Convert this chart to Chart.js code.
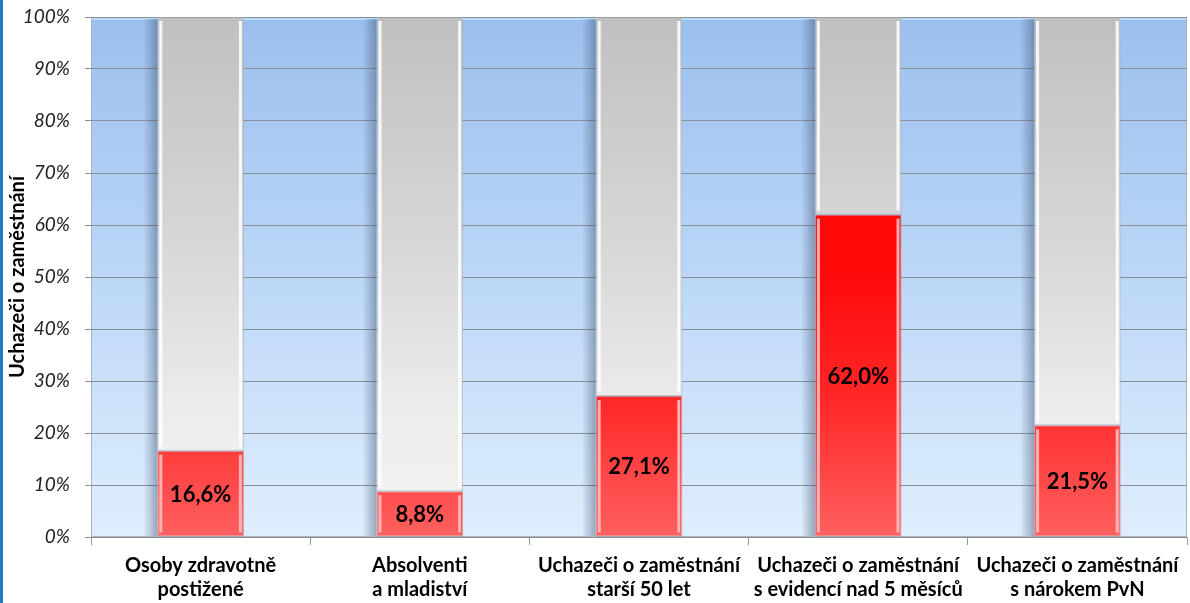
<!DOCTYPE html>
<html>
<head>
<meta charset="utf-8">
<script src="https://cdn.jsdelivr.net/npm/chart.js@4.4.1/dist/chart.umd.min.js"></script>
<style>
  html, body { margin: 0; padding: 0; background: #fff; }
  #wrap { width: 1190px; height: 603px; position: relative; }
</style>
</head>
<body>
<div id="wrap"><canvas id="chart"></canvas></div>
<script>
// Categories (two-line labels)
const categories = [
  ["Osoby zdravotně", "postižené"],
  ["Absolventi", "a mladiství"],
  ["Uchazeči o zaměstnání", "starší 50 let"],
  ["Uchazeči o zaměstnání", "s evidencí nad 5 měsíců"],
  ["Uchazeči o zaměstnání", "s nárokem PvN"],
];
// Share of the group (%)
const shareValues = [16.6, 8.8, 27.1, 62.0, 21.5];
// Remainder up to 100 %
const restValues = [83.4, 91.2, 72.9, 38.0, 78.5];
const yTicks = [0, 10, 20, 30, 40, 50, 60, 70, 80, 90, 100];

// Plot background gradient + left blue frame line
const plotBackground = {
  id: "plotBackground",
  beforeDraw(chart) {
    const { ctx, chartArea: a } = chart;
    ctx.save();
    const g = ctx.createLinearGradient(0, a.top, 0, a.bottom);
    g.addColorStop(0, "#9bbfee");
    g.addColorStop(0.5, "#bcd7f7");
    g.addColorStop(1, "#dfeefd");
    ctx.fillStyle = g;
    ctx.fillRect(a.left, a.top, a.right - a.left, a.bottom - a.top);
    ctx.fillStyle = "#b8dcff";
    ctx.fillRect(a.left, a.top, a.right - a.left, 3);
    ctx.strokeStyle = "#a9b4c2";
    ctx.lineWidth = 1;
    ctx.strokeRect(a.left + 0.5, a.top + 0.5, a.right - a.left - 1, a.bottom - a.top - 1);
    ctx.fillStyle = "#1f78c8";
    ctx.fillRect(0, 0, 3, chart.height);
    ctx.restore();
  },
};

// Bar shadows and white highlight edges
const barEffects = {
  id: "barEffects",
  beforeDatasetsDraw(chart) {
    const { ctx } = chart;
    const meta = chart.getDatasetMeta(1);
    ctx.save();
    meta.data.forEach((bar) => {
      const w = bar.width;
      const x0 = bar.x - w / 2;
      const a = chart.chartArea;
      const gl = ctx.createLinearGradient(x0 - 14, 0, x0, 0);
      gl.addColorStop(0, "rgba(60,80,110,0)");
      gl.addColorStop(1, "rgba(60,80,110,0.45)");
      ctx.fillStyle = gl;
      ctx.fillRect(x0 - 14, a.top + 2, 14, a.bottom - a.top - 3);
    });
    ctx.restore();
  },
  afterDatasetsDraw(chart) {
    const { ctx } = chart;
    ctx.save();
    [0, 1].forEach((di) => {
      chart.getDatasetMeta(di).data.forEach((bar) => {
        const w = bar.width;
        const x0 = bar.x - w / 2;
        const top = Math.min(bar.y, bar.base);
        const h = Math.abs(bar.base - bar.y);
        ctx.fillStyle = di === 0 ? "rgba(255,190,190,0.9)" : "rgba(255,255,255,0.85)";
        ctx.fillRect(x0 + 2, top + 4, 3, h - 8);
        ctx.fillRect(x0 + w - 5, top + 4, 3, h - 8);
      });
    });
    ctx.restore();
  },
};

// Value labels inside the red segments
const valueLabels = {
  id: "valueLabels",
  afterDatasetsDraw(chart) {
    const { ctx } = chart;
    ctx.save();
    ctx.font = "bold 22px Lato";
    ctx.fillStyle = "#000";
    ctx.textAlign = "center";
    ctx.textBaseline = "middle";
    chart.getDatasetMeta(0).data.forEach((bar, i) => {
      const txt = shareValues[i].toFixed(1).replace(".", ",") + "%";
      ctx.fillText(txt, bar.x, (bar.y + bar.base) / 2 + 1);
    });
    ctx.restore();
  },
};

new Chart(document.getElementById("chart").getContext("2d"), {
  type: "bar",
  data: {
    labels: categories,
    datasets: [
      {
        data: shareValues,
        backgroundColor: function (context) {
          const { ctx, chartArea } = context.chart;
          if (!chartArea) return "#ff2020";
          const g = ctx.createLinearGradient(0, chartArea.top, 0, chartArea.bottom);
          g.addColorStop(0, "#ff0000");
          g.addColorStop(0.5, "#ff0a0a");
          g.addColorStop(0.75, "#ff2a2a");
          g.addColorStop(1, "#ff6060");
          return g;
        },
        borderColor: "rgba(210,80,80,0.6)",
        borderWidth: 1,
        borderSkipped: false,
        barPercentage: 0.395,
        categoryPercentage: 1,
      },
      {
        data: restValues,
        backgroundColor: function (context) {
          const { ctx, chartArea } = context.chart;
          if (!chartArea) return "#d0d0d0";
          const g = ctx.createLinearGradient(0, chartArea.top, 0, chartArea.bottom);
          g.addColorStop(0, "#c0c0c0");
          g.addColorStop(0.45, "#d8d8d8");
          g.addColorStop(0.75, "#ececec");
          g.addColorStop(1, "#f4f4f4");
          return g;
        },
        borderColor: "rgba(170,170,170,0.6)",
        borderWidth: 1,
        borderSkipped: false,
        barPercentage: 0.395,
        categoryPercentage: 1,
      },
    ],
  },
  plugins: [plotBackground, barEffects, valueLabels],
  options: {
    responsive: true,
    maintainAspectRatio: false,
    animation: false,
    layout: {
      padding: { top: 17, right: 3, left: 0, bottom: 0 },
    },
    plugins: {
      legend: { display: false },
      tooltip: { enabled: false },
    },
    scales: {
      x: {
        stacked: true,
        grid: {
          offset: true,
          drawOnChartArea: false,
          color: "#999",
          tickLength: 8,
        },
        border: { display: false },
        ticks: {
          color: "#000",
          font: { family: "Lato", size: 20, weight: "bold", lineHeight: 1.2 },
          padding: 9,
          maxRotation: 0,
          autoSkip: false,
        },
        afterFit(scale) {
          scale.height = 66;
          scale.paddingLeft = 0;
          scale.paddingRight = 0;
        },
      },
      y: {
        stacked: true,
        min: 0,
        max: 100,
        afterBuildTicks(scale) {
          scale.ticks = yTicks.map((v) => ({ value: v }));
        },
        ticks: {
          color: "#222",
          font: { family: "Lato", size: 19, style: "italic" },
          padding: 15,
          callback: (v) => v + "%",
        },
        grid: {
          color: "#8a8f96",
          tickLength: 6,
        },
        border: { display: false },
        title: {
          display: true,
          text: "Uchazeči o zaměstnání",
          color: "#000",
          font: { family: "Lato", size: 20, weight: "bold", lineHeight: 1.2 },
          padding: { top: 6, bottom: 0 },
        },
        afterFit(scale) {
          scale.width = 91;
          scale.paddingTop = 0;
          scale.paddingBottom = 0;
        },
      },
    },
  },
});
</script>
</body>
</html>
